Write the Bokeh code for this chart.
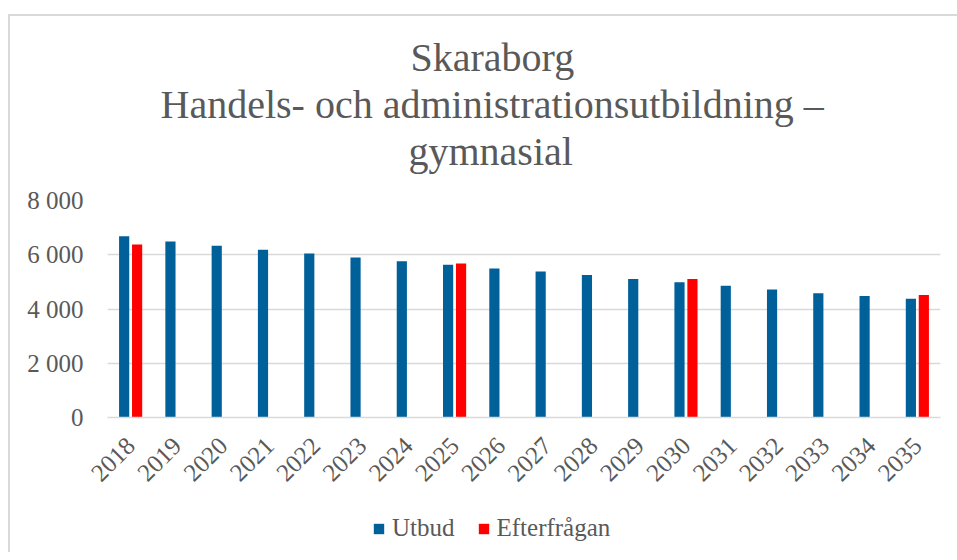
from bokeh.plotting import figure
from bokeh.models import ColumnDataSource, FactorRange, Range1d, FixedTicker, Legend, LegendItem, Title
from bokeh.layouts import column
from bokeh.transform import dodge
from bokeh.embed import file_html
from bokeh.resources import INLINE
from math import pi

years = [str(y) for y in range(2018, 2036)]
utbud = [6680, 6490, 6330, 6180, 6050, 5900, 5760, 5630, 5490, 5380, 5250, 5110, 4990, 4855, 4720, 4585, 4475, 4375]
efter_years = ["2018", "2025", "2030", "2035"]
efterfragan = [6380, 5680, 5110, 4520]
y_ticks = [0, 2000, 4000, 6000, 8000]
y_tick_labels = ["0", "2 000", "4 000", "6 000", "8 000"]
title_lines = ["Skaraborg", "Handels- och administrationsutbildning –", "gymnasial"]
series_names = ["Utbud", "Efterfrågan"]

FONT = "Liberation Serif"
TXT = "#595959"
GRID = "#d9d9d9"
BLUE = "#00609A"
RED = "#FF0000"

src_u = ColumnDataSource(dict(year=years, val=utbud))
src_e = ColumnDataSource(dict(year=efter_years, val=efterfragan))

p = figure(width=957, height=508, x_range=FactorRange(*years), y_range=Range1d(0, 8000),
           output_backend="svg", toolbar_location=None,
           min_border_left=107, min_border_right=17, min_border_top=200, min_border_bottom=91)
p.outline_line_color = None
p.background_fill_color = "white"
p.border_fill_alpha = 0

p.vbar(x=dodge("year", -0.14, range=p.x_range), top="val", width=0.22, source=src_u,
       fill_color=BLUE, line_color=None)
p.vbar(x=dodge("year", 0.14, range=p.x_range), top="val", width=0.22, source=src_e,
       fill_color=RED, line_color=None)

# small spacer between the plot area and the title block
p.add_layout(Title(text=" ", text_font_size="10px", standoff=14), "above")
title_offsets = [303, 53, 301]
for line, off in reversed(list(zip(title_lines, title_offsets))):
    t = Title(text=line, align="left", text_font=FONT, text_font_size="40px",
              text_font_style="normal", text_color=TXT, offset=off, standoff=0)
    p.add_layout(t, "above")

p.xgrid.grid_line_color = None
p.ygrid.grid_line_color = GRID
p.ygrid.grid_line_width = 1.5
p.yaxis.ticker = FixedTicker(ticks=y_ticks)
p.yaxis.major_label_overrides = {t_: l for t_, l in zip(y_ticks, y_tick_labels)}
p.yaxis.axis_line_color = None
p.yaxis.major_tick_line_color = None
p.yaxis.minor_tick_line_color = None
p.yaxis.major_label_standoff = 18
for ax in (p.xaxis[0], p.yaxis[0]):
    ax.major_label_text_font = FONT
    ax.major_label_text_font_size = "25px"
    ax.major_label_text_color = TXT
p.xaxis.axis_line_color = GRID
p.xaxis.axis_line_width = 1.5
p.xaxis.major_tick_line_color = None
p.xaxis.minor_tick_line_color = None
p.xaxis.major_label_orientation = pi / 4
p.xaxis.major_label_standoff = 18

# legend strip below the chart
leg = figure(width=957, height=44, x_range=FactorRange(*years), y_range=Range1d(0, 8000),
             output_backend="svg", toolbar_location=None,
             min_border_left=0, min_border_right=0, min_border_top=0, min_border_bottom=0)
leg.axis.visible = False
leg.grid.visible = False
leg.outline_line_color = None
leg.border_fill_alpha = 0
leg.background_fill_alpha = 0
lr_u = leg.vbar(x="year", top="val", width=0.22, source=src_u, fill_color=BLUE, line_color=None, visible=False)
lr_e = leg.vbar(x="year", top="val", width=0.22, source=src_e, fill_color=RED, line_color=None, visible=False)
legend = Legend(items=[LegendItem(label=series_names[0], renderers=[lr_u]),
                       LegendItem(label=series_names[1], renderers=[lr_e])],
                orientation="horizontal", location=(265, 10), margin=0, padding=0,
                glyph_width=13, glyph_height=13, label_standoff=7, spacing=22, label_height=24,
                label_text_font=FONT, label_text_font_size="25px", label_text_color=TXT,
                border_line_color=None, background_fill_alpha=0, inactive_fill_alpha=0)
leg.add_layout(legend, "center")

layout = column(p, leg, spacing=0)
layout.styles = {"box-shadow": "inset 8px 14px 0 0 white, inset 10px 16px 0 0 #d9d9d9"}
open("out.html", "w").write(file_html(layout, INLINE))
